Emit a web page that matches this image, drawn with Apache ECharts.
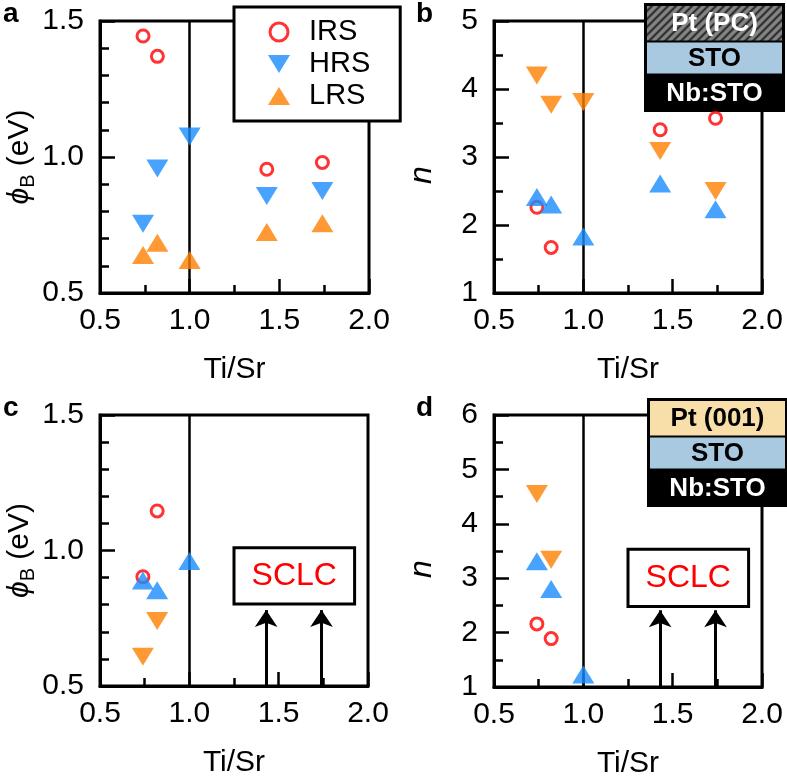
<!DOCTYPE html>
<html><head><meta charset="utf-8">
<script src="https://cdn.jsdelivr.net/npm/echarts@6/dist/echarts.min.js"></script>
<style>html,body{margin:0;padding:0;background:#fff}#c{width:787px;height:784px}</style>
</head><body><div id="c"></div>
<script>
// ---- data ----
const tiSr = [0.74, 0.82, 1.0, 1.43, 1.74];
// panel a (phi_B, eV)
const aIRS = [1.445, 1.37, null, 0.955, 0.98];
const aHRS = [0.755, 0.958, 1.075, 0.857, 0.875];
const aLRS = [0.64, 0.685, 0.621, 0.724, 0.756];
// panel b (n)
const bIRS = [2.26, 1.67, null, 3.40, 3.57];
const bDown = [4.20, 3.77, 3.81, 3.09, 2.50];
const bUp = [2.41, 2.30, 1.83, 2.61, 2.23];
// panel c (phi_B, eV)
const cIRS = [0.903, 1.146, null, null, null];
const cUp = [0.889, 0.853, 0.961, null, null];
const cDown = [0.608, 0.740, null, null, null];
// panel d (n)
const dIRS = [2.16, 1.89, null, null, null];
const dUp = [3.31, 2.80, 1.23, null, null];
const dDown = [4.55, 3.34, null, null, null];
// annotations
const boundaryX = 1.0;
const arrowX = [1.43, 1.74];
const arrowTopC = 0.78, arrowTopD = 2.41;
const sclcC = [[1.25, 1.01], [1.925, 0.803]];
const sclcD = [[1.25, 3.53], [1.925, 2.48]];
const xTicks = ['0.5', '1.0', '1.5', '2.0'];

const F = 'Liberation Sans, Arial, sans-serif';
const RED = '#ff0000', BLUE = '#1a8cff', ORANGE = '#ff8000';
const pts = arr => tiSr.map((x, i) => [x, arr[i]]).filter(p => p[1] != null);

const chart = echarts.init(document.getElementById('c'), null, {renderer: 'canvas'});

const grids = [
  {left: 100, top: 21, width: 269, height: 272},
  {left: 494, top: 21, width: 268, height: 272},
  {left: 100, top: 415, width: 268, height: 271},
  {left: 494, top: 415, width: 268, height: 272}
].map(g => Object.assign(g, {show: true, borderColor: '#000', borderWidth: 3, backgroundColor: 'transparent'}));

function xAx(gi) {
  return {
    type: 'value', gridIndex: gi, min: 0.5, max: 2.0, interval: 0.5,
    name: 'Ti/Sr', nameLocation: 'middle', nameGap: 62,
    nameTextStyle: {fontSize: 30, color: '#000', fontFamily: F},
    axisLine: {show: true, lineStyle: {color: '#000', width: 3}},
    axisTick: {show: true, inside: true, length: 14, lineStyle: {color: '#000', width: 2.5}},
    minorTick: {show: true, splitNumber: 2, length: 8, lineStyle: {color: '#000', width: 2.5}},
    splitLine: {show: false}, minorSplitLine: {show: false},
    axisLabel: {fontSize: 30, color: '#000', margin: 13, fontFamily: F,
      formatter: v => xTicks[Math.round((v - 0.5) / 0.5)]}
  };
}
const phiName = {
  name: '{p|ϕ}{s|B}{t| (eV)}', nameGap: 60,
  nameTextStyle: {fontFamily: F, color: '#000', rich: {
    p: {fontSize: 30, fontStyle: 'italic', lineHeight: 38, fontFamily: F},
    s: {fontSize: 20, verticalAlign: 'bottom', lineHeight: 38, fontFamily: F},
    t: {fontSize: 30, lineHeight: 38, fontFamily: F}
  }}
};
const nName = {name: 'n', nameGap: 56, nameTextStyle: {fontFamily: F, color: '#000', fontSize: 32, fontStyle: 'italic', padding: [0, 36, 0, 0]}};
function yAx(gi, min, max, interval, minorSplit, dec, nm) {
  return Object.assign({
    type: 'value', gridIndex: gi, min: min, max: max, interval: interval,
    nameLocation: 'middle', nameRotate: 90,
    axisLine: {show: true, lineStyle: {color: '#000', width: 3}},
    axisTick: {show: true, inside: true, length: 15, lineStyle: {color: '#000', width: 2.5}},
    minorTick: {show: true, splitNumber: minorSplit, length: 9, lineStyle: {color: '#000', width: 2.5}},
    splitLine: {show: false}, minorSplitLine: {show: false},
    axisLabel: {fontSize: 30, color: '#000', margin: 16, fontFamily: F, formatter: v => v.toFixed(dec)}
  }, nm);
}

const circle = {symbol: 'circle', symbolSize: 12, itemStyle: {color: 'rgba(255,255,255,0)', borderColor: RED, borderWidth: 3}};
const tri = (color, down) => ({symbol: 'triangle', symbolSize: [22, 18], symbolRotate: down ? 180 : 0, itemStyle: {color: color}});

function sc(name, gi, arr, style, extra) {
  return Object.assign({type: 'scatter', name: name, xAxisIndex: gi, yAxisIndex: gi, data: pts(arr), z: 5, animation: false}, style, extra || {});
}
const vLine = {markLine: {silent: true, symbol: 'none', animation: false, label: {show: false},
  lineStyle: {color: '#000', width: 2.5, type: 'solid'}, data: [{xAxis: boundaryX}]}};
function arrowsAndBox(ymin, top, box) {
  return {
    markLine: {silent: true, symbol: ['none', 'arrow'], symbolSize: 17, animation: false, label: {show: false},
      lineStyle: {color: '#000', width: 3, type: 'solid'},
      data: arrowX.map(x => [{coord: [x, ymin]}, {coord: [x, top]}])},
    markArea: {silent: true, animation: false,
      itemStyle: {color: '#fff', borderColor: '#000', borderWidth: 3},
      label: {show: true, position: 'inside', color: RED, fontSize: 32, fontFamily: F},
      data: [[{name: 'SCLC', coord: box[0]}, {coord: box[1]}]]}
  };
}

// hatch pattern
const pc = document.createElement('canvas'); pc.width = 8; pc.height = 8;
const ctx = pc.getContext('2d');
ctx.fillStyle = '#858585'; ctx.fillRect(0, 0, 8, 8);
ctx.strokeStyle = '#1a1a1a'; ctx.lineWidth = 1.8;
ctx.beginPath(); ctx.moveTo(-1, 9); ctx.lineTo(9, -1); ctx.moveTo(-1, 1); ctx.lineTo(1, -1); ctx.moveTo(7, 9); ctx.lineTo(9, 7); ctx.stroke();

function stack(left, top, topLabel, topFill, topColor) {
  const w = 138, h1 = 37, h2 = 33, h3 = 36;
  const txt = (t, y, h, c) => ({type: 'text', x: w / 2, y: y + h / 2 + 1, style: {text: t, fill: c, font: 'bold 26px ' + F, align: 'center', verticalAlign: 'middle'}});
  return {type: 'group', left: left, top: top, z: 100, children: [
    {type: 'rect', shape: {x: 0, y: 0, width: w, height: h1}, style: {fill: topFill}},
    {type: 'rect', shape: {x: 0, y: h1, width: w, height: h2}, style: {fill: '#a9c9e1', stroke: '#000', lineWidth: 2}},
    {type: 'rect', shape: {x: 0, y: h1 + h2, width: w, height: h3}, style: {fill: '#000'}},
    {type: 'rect', shape: {x: 0, y: 0, width: w, height: h1 + h2 + h3}, style: {fill: 'none', stroke: '#000', lineWidth: 3}},
    txt(topLabel, 0, h1, topColor), txt('STO', h1, h2, '#000'), txt('Nb:STO', h1 + h2, h3, '#fff')
  ]};
}
const letter = (t, x, y) => ({type: 'text', left: x, top: y, z: 100, style: {text: t, font: 'bold 28px ' + F, fill: '#000'}});

const option = {
  backgroundColor: '#fff',
  animation: false,
  textStyle: {fontFamily: F},
  grid: grids,
  xAxis: [xAx(0), xAx(1), xAx(2), xAx(3)],
  yAxis: [
    yAx(0, 0.5, 1.5, 0.5, 5, 1, phiName),
    yAx(1, 1, 5, 1, 2, 0, nName),
    yAx(2, 0.5, 1.5, 0.5, 5, 1, phiName),
    yAx(3, 1, 6, 1, 2, 0, nName)
  ],
  legend: {
    data: [
      {name: 'IRS', icon: 'circle', itemStyle: {color: '#fff', borderColor: RED, borderWidth: 3}},
      {name: 'HRS', icon: 'path://M0,0L22,0L11,18Z'},
      {name: 'LRS'}
    ],
    orient: 'vertical', left: 234, top: 7, z: 50,
    backgroundColor: '#fff', borderColor: '#000', borderWidth: 3,
    padding: [10, 30, 10, 34], itemWidth: 22, itemHeight: 18, itemGap: 2, selectedMode: false,
    textStyle: {fontSize: 29, lineHeight: 30, color: '#000', fontFamily: F, padding: [0, 0, 0, 14]}
  },
  series: [
    sc('IRS', 0, aIRS, circle, vLine),
    sc('HRS', 0, aHRS, tri(BLUE, true)),
    sc('LRS', 0, aLRS, tri(ORANGE, false)),
    sc('b-IRS', 1, bIRS, circle, vLine),
    sc('b-down', 1, bDown, tri(ORANGE, true)),
    sc('b-up', 1, bUp, tri(BLUE, false)),
    sc('c-IRS', 2, cIRS, circle, vLine),
    sc('c-up', 2, cUp, tri(BLUE, false), arrowsAndBox(0.5, arrowTopC, sclcC)),
    sc('c-down', 2, cDown, tri(ORANGE, true)),
    sc('d-IRS', 3, dIRS, circle, vLine),
    sc('d-up', 3, dUp, tri(BLUE, false), arrowsAndBox(1, arrowTopD, sclcD)),
    sc('d-down', 3, dDown, tri(ORANGE, true))
  ],
  graphic: [
    letter('a', 3, 0), letter('b', 416, 0), letter('c', 3, 394), letter('d', 416, 394),
    stack(643, 2, 'Pt (PC)', {image: pc, repeat: 'repeat'}, '#fff'),
    stack(646, 397, 'Pt (001)', '#f8dea9', '#000')
  ]
};
chart.setOption(option);
</script>
</body></html>
